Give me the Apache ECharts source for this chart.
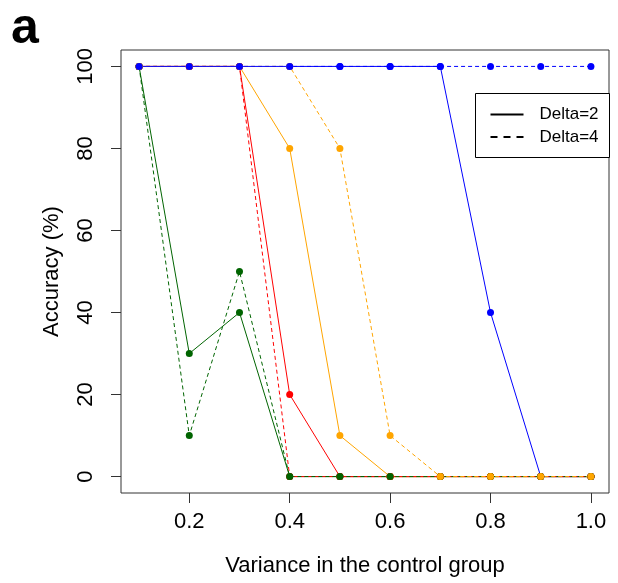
<!DOCTYPE html>
<html lang="en">
<head>
    <meta charset="UTF-8">
    <title>Accuracy vs variance</title>
    <script src="https://cdn.jsdelivr.net/npm/echarts@6.0.0/dist/echarts.min.js"></script>
    <style>
        * { margin: 0; padding: 0; box-sizing: border-box; }
        body { background: #ffffff; }
        #chart { width: 618px; height: 583px; }
    </style>
</head>
<body>
    <div id="chart"></div>
    <script>
        // data
        var variance = [0.1, 0.2, 0.3, 0.4, 0.5, 0.6, 0.7, 0.8, 0.9, 1.0];
        var blueD2   = [100, 100, 100, 100, 100, 100, 100, 40, 0, 0];
        var blueD4   = [100, 100, 100, 100, 100, 100, 100, 100, 100, 100];
        var orangeD2 = [100, 100, 100, 80, 10, 0, 0, 0, 0, 0];
        var orangeD4 = [100, 100, 100, 100, 80, 10, 0, 0, 0, 0];
        var redD2    = [100, 100, 100, 20, 0, 0, 0, 0, 0, 0];
        var redD4    = [100, 100, 100, 0, 0, 0, 0, 0, 0, 0];
        var greenD2  = [100, 30, 40, 0, 0, 0, 0, 0, 0, 0];
        var greenD4  = [100, 10, 50, 0, 0, 0, 0, 0, 0, 0];
        var xTicks = [0.2, 0.4, 0.6, 0.8, 1.0];
        var yTicks = [0, 20, 40, 60, 80, 100];

        var FONT = '"Liberation Sans", Arial, sans-serif';

        function pairs(ys) {
            return variance.map(function (x, i) { return [x, ys[i]]; });
        }

        function makeSeries(ys, color, dashed) {
            return {
                type: 'line',
                data: pairs(ys),
                symbol: 'circle',
                symbolSize: 7,
                itemStyle: { color: color },
                lineStyle: { color: color, width: 1, type: dashed ? [4, 3] : 'solid' },
                emphasis: { disabled: true }
            };
        }

        var chart = echarts.init(document.getElementById('chart'));
        chart.setOption({
            animation: false,
            grid: {
                left: 121, top: 50, right: 9, bottom: 90,
                show: true, borderColor: '#333', borderWidth: 1
            },
            xAxis: {
                type: 'value',
                min: 0.064, max: 1.036,
                name: 'Variance in the control group',
                nameLocation: 'middle',
                nameGap: 62,
                nameTextStyle: { fontFamily: FONT, fontSize: 22, color: '#000' },
                axisLine: { show: false, onZero: false },
                splitLine: { show: false },
                axisTick: { show: true, length: 10, lineStyle: { color: '#333' }, customValues: xTicks },
                axisLabel: {
                    fontFamily: FONT, fontSize: 22, color: '#000', margin: 18,
                    customValues: xTicks,
                    formatter: function (v) { return v.toFixed(1); }
                }
            },
            yAxis: {
                type: 'value',
                min: -4, max: 104,
                name: 'Accuracy (%)',
                nameLocation: 'middle',
                nameGap: 58,
                nameTextStyle: { fontFamily: FONT, fontSize: 22, color: '#000' },
                axisLine: { show: false, onZero: false },
                splitLine: { show: false },
                axisTick: { show: true, length: 10, lineStyle: { color: '#333' }, customValues: yTicks },
                axisLabel: {
                    fontFamily: FONT, fontSize: 22, color: '#000', margin: 24,
                    rotate: 90,
                    customValues: yTicks
                }
            },
            series: [
                makeSeries(redD2, '#FF0000', false),
                makeSeries(greenD2, '#006400', false),
                makeSeries(orangeD2, '#FFA500', false),
                makeSeries(blueD2, '#0000FF', false),
                makeSeries(redD4, '#FF0000', true),
                makeSeries(greenD4, '#006400', true),
                makeSeries(orangeD4, '#FFA500', true),
                makeSeries(blueD4, '#0000FF', true)
            ],
            graphic: [
                {
                    type: 'text', left: 11, top: 4,
                    style: { text: 'a', font: 'bold 50px ' + FONT, fill: '#000' }
                },
                {
                    type: 'group', left: 475, top: 93,
                    children: [
                        { type: 'rect', shape: { x: 0, y: 0, width: 134, height: 64 },
                          style: { fill: '#fff', stroke: '#000', lineWidth: 1 } },
                        { type: 'line', shape: { x1: 15, y1: 21, x2: 48, y2: 21 },
                          style: { stroke: '#000', lineWidth: 2 } },
                        { type: 'line', shape: { x1: 15, y1: 43.5, x2: 48, y2: 43.5 },
                          style: { stroke: '#000', lineWidth: 2, lineDash: [7, 6] } },
                        { type: 'text', x: 64, y: 21,
                          style: { text: 'Delta=2', font: '17px ' + FONT, fill: '#000', verticalAlign: 'middle' } },
                        { type: 'text', x: 64, y: 43.5,
                          style: { text: 'Delta=4', font: '17px ' + FONT, fill: '#000', verticalAlign: 'middle' } }
                    ]
                }
            ]
        });
    </script>
</body>
</html>
